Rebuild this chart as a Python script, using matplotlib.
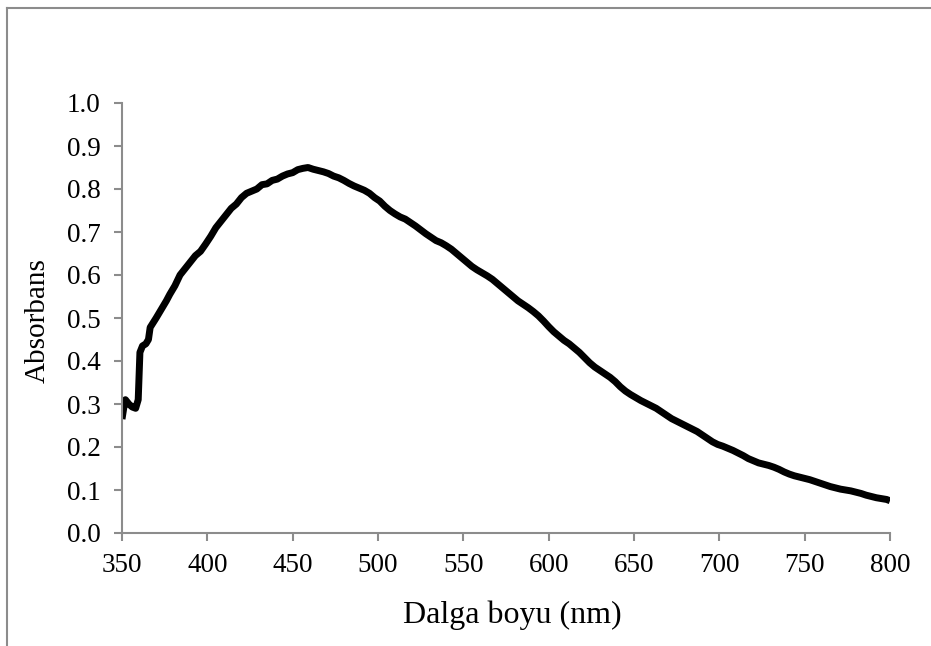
import matplotlib
matplotlib.use("Agg")
import matplotlib.pyplot as plt
from matplotlib.lines import Line2D

# UV-Vis absorption spectrum
wavelength = [350, 351, 352, 354, 356, 358, 359.5, 360.5, 362, 364, 365.5, 366.5,
              370, 373, 376, 378, 381, 384, 387, 390, 393, 396, 399, 402, 405, 408,
              411, 414, 417, 420, 423, 426, 429, 432, 435, 438, 441, 444, 447, 450,
              453, 456, 459, 462, 465, 468, 471, 474, 477, 480, 483, 486, 489, 492,
              495, 498, 501, 504, 507, 510, 513, 516, 519, 522, 525, 528, 531, 534,
              537, 540, 543, 546, 549, 552, 555, 558, 561, 564, 567, 570, 573, 576,
              579, 582, 585, 588, 591, 594, 597, 600, 603, 606, 609, 612, 615, 618,
              621, 624, 627, 630, 633, 636, 639, 642, 645, 648, 651, 654, 657, 660,
              663, 666, 669, 672, 675, 678, 681, 684, 687, 690, 693, 696, 699, 702,
              705, 708, 711, 714, 717, 720, 723, 726, 729, 732, 735, 738, 741, 744,
              747, 750, 753, 756, 759, 762, 765, 768, 771, 774, 777, 780, 783, 786,
              789, 792, 795, 798, 800]
absorbance = [0.265, 0.29, 0.31, 0.30, 0.293, 0.29, 0.31, 0.42, 0.435, 0.44, 0.45, 0.478,
              0.50, 0.52, 0.54, 0.555, 0.575, 0.60, 0.615, 0.63, 0.645, 0.655, 0.672, 0.69,
              0.71, 0.725, 0.74, 0.755, 0.765, 0.78, 0.79, 0.795, 0.80, 0.81, 0.812, 0.82,
              0.823, 0.83, 0.835, 0.838, 0.845, 0.848, 0.85, 0.846, 0.843, 0.84, 0.836,
              0.83, 0.826, 0.82, 0.813, 0.807, 0.802, 0.797, 0.79, 0.78, 0.772, 0.76, 0.75,
              0.742, 0.735, 0.73, 0.722, 0.714, 0.705, 0.696, 0.688, 0.68, 0.675, 0.668,
              0.66, 0.65, 0.64, 0.63, 0.62, 0.612, 0.605, 0.598, 0.59, 0.58, 0.57, 0.56,
              0.55, 0.54, 0.532, 0.524, 0.515, 0.505, 0.493, 0.48, 0.468, 0.458, 0.448,
              0.44, 0.43, 0.42, 0.408, 0.396, 0.386, 0.378, 0.37, 0.362, 0.352, 0.34, 0.33,
              0.322, 0.315, 0.308, 0.302, 0.296, 0.29, 0.282, 0.274, 0.266, 0.26, 0.254,
              0.248, 0.242, 0.236, 0.228, 0.22, 0.212, 0.206, 0.202, 0.197, 0.192, 0.186,
              0.18, 0.173, 0.168, 0.163, 0.16, 0.157, 0.153, 0.148, 0.142, 0.137, 0.133,
              0.13, 0.127, 0.124, 0.12, 0.116, 0.112, 0.108, 0.105, 0.102, 0.1, 0.098,
              0.095, 0.092, 0.088, 0.085, 0.082, 0.08, 0.078, 0.075]

x_ticks = [350, 400, 450, 500, 550, 600, 650, 700, 750, 800]
y_ticks = [0.0, 0.1, 0.2, 0.3, 0.4, 0.5, 0.6, 0.7, 0.8, 0.9, 1.0]

plt.rcParams['font.family'] = ['Liberation Serif', 'DejaVu Serif']

W, H = 931, 646
fig = plt.figure(figsize=(W / 100, H / 100), dpi=100)
ax = fig.add_axes([122 / W, (H - 533) / H, (890 - 122) / W, (533 - 103) / H])

ax.plot(wavelength, absorbance, color='black', lw=5.0, solid_capstyle='butt',
        solid_joinstyle='round')

ax.set_xlim(350, 800)
ax.set_ylim(0.0, 1.0)
ax.set_xticks(x_ticks)
ax.set_yticks(y_ticks)
ax.set_yticklabels([f"{v:.1f}" for v in y_ticks])

grey = '#8c8c8c'
for side in ['top', 'right']:
    ax.spines[side].set_visible(False)
for side in ['left', 'bottom']:
    ax.spines[side].set_color(grey)
    ax.spines[side].set_linewidth(1.5)

ax.tick_params(axis='both', direction='out', length=5.5, width=1.5, color=grey,
               labelsize=19.5, labelcolor='black')
ax.tick_params(axis='y', pad=10)
ax.tick_params(axis='x', pad=9)

ax.set_xlabel('Dalga boyu (nm)', fontsize=23)
ax.set_ylabel('Absorbans', fontsize=21)
ax.xaxis.set_label_coords(0.508, -0.158)
ax.yaxis.set_label_coords(-0.0925, 0.494)

# outer chart frame (top and left edges)
fig.add_artist(Line2D([7 / W, 1.0], [1 - 8 / H, 1 - 8 / H], transform=fig.transFigure,
                      color=grey, lw=1.5))
fig.add_artist(Line2D([7 / W, 7 / W], [0.0, 1 - 8 / H], transform=fig.transFigure,
                      color=grey, lw=1.5))

fig.savefig('out.png', dpi=100)
